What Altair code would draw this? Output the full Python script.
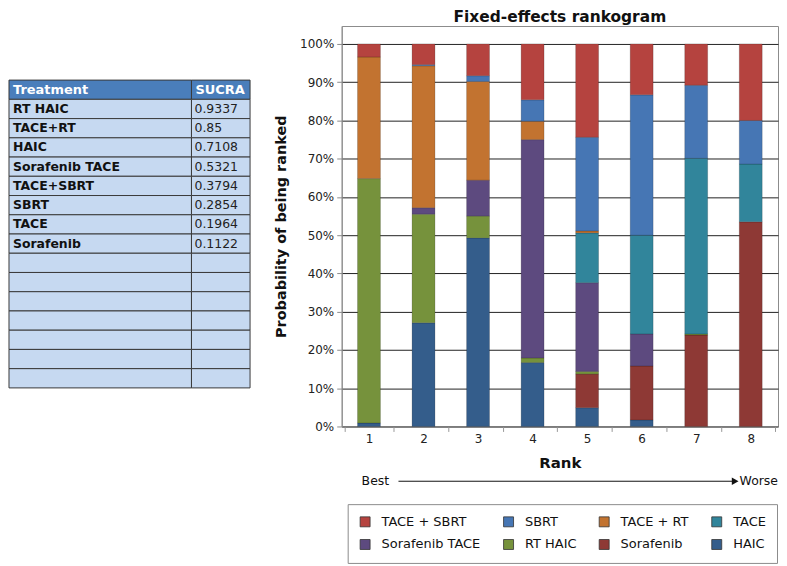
import altair as alt
import pandas as pd

# ---------------- data ----------------
ranks = [1, 2, 3, 4, 5, 6, 7, 8]

# stacking order, bottom to top
stack_order = ["HAIC", "Sorafenib", "RT HAIC", "Sorafenib TACE", "TACE",
               "TACE + RT", "SBRT", "TACE + SBRT"]

# probability (%) of each treatment being ranked 1..8
p_haic = [0.9, 27.1, 49.3, 16.7, 4.9, 1.7, 0, 0]
p_sorafenib = [0, 0, 0, 0, 8.8, 14.1, 23.9, 53.5]
p_rt_haic = [63.9, 28.4, 5.7, 1.2, 0.7, 0, 0.3, 0]
p_sorafenib_tace = [0, 1.7, 9.4, 57.1, 23.2, 8.4, 0, 0]
p_tace = [0, 0, 0, 0, 13.0, 25.8, 45.9, 15.1]
p_tace_rt = [31.8, 37.1, 25.8, 4.8, 0.5, 0, 0, 0]
p_sbrt = [0, 0.3, 1.5, 5.6, 24.5, 36.7, 19.1, 11.4]
p_tace_sbrt = [3.4, 5.4, 8.3, 14.6, 24.4, 13.3, 10.8, 20.0]

series = [p_haic, p_sorafenib, p_rt_haic, p_sorafenib_tace, p_tace,
          p_tace_rt, p_sbrt, p_tace_sbrt]

legend_order = ["TACE + SBRT", "SBRT", "TACE + RT", "TACE",
                "Sorafenib TACE", "RT HAIC", "Sorafenib", "HAIC"]
legend_colors = ["#B5433F", "#4676B4", "#C27330", "#31859B",
                 "#5D4A7F", "#76923C", "#8E3935", "#345D8B"]

y_ticks = [0, 10, 20, 30, 40, 50, 60, 70, 80, 90, 100]

table_header = ["Treatment", "SUCRA"]
table_treatments = ["RT HAIC", "TACE+RT", "HAIC", "Sorafenib TACE",
                    "TACE+SBRT", "SBRT", "TACE", "Sorafenib"]
table_sucra = ["0.9337", "0.85", "0.7108", "0.5321", "0.3794",
               "0.2854", "0.1964", "0.1122"]
n_empty_rows = 7

FONT = "DejaVu Sans"

# ---------------- rankogram ----------------
rows = []
for idx, (name, vals) in enumerate(zip(stack_order, series)):
    for r, v in zip(ranks, vals):
        if v > 0:
            rows.append({"rank": r, "treatment": name, "value": v, "stack_idx": idx})
bar_df = pd.DataFrame(rows)

W = 438
H = 402

bars = alt.Chart(bar_df).mark_bar(
    size=23, stroke="#000000", strokeOpacity=0.25, strokeWidth=0.7
).encode(
    x=alt.X("rank:O",
            axis=alt.Axis(title="Rank", labelAngle=0, tickBand="extent",
                          tickSize=5, tickColor="#999999", domainColor="#8c8c8c",
                          grid=False, labelPadding=2, titlePadding=11,
                          titleFontSize=15, titleFontWeight="bold",
                          titleFont=FONT, titleColor="#111111",
                          labelFontSize=12, labelFont=FONT, labelColor="#222222")),
    y=alt.Y("value:Q", stack="zero",
            scale=alt.Scale(domain=[0, 104.7], nice=False, zero=True),
            axis=alt.Axis(values=y_ticks, labelExpr="datum.value + '%'",
                          title="Probability of being ranked",
                          titleFontSize=14.5, titleFontWeight="bold",
                          titleFont=FONT, titleColor="#111111", titlePadding=11,
                          labelFontSize=12, labelFont=FONT, labelColor="#222222",
                          labelPadding=3, tickSize=5, tickColor="#8c8c8c",
                          domainColor="#8c8c8c", grid=True, gridColor="#222222",
                          gridWidth=1)),
    color=alt.Color("treatment:N",
                    scale=alt.Scale(domain=legend_order, range=legend_colors),
                    legend=alt.Legend(title=None, orient="none", legendX=340,
                                      legendY=H + 78, direction="horizontal",
                                      columns=4, symbolType="square",
                                      symbolSize=100, symbolStrokeColor="#333333",
                                      symbolStrokeWidth=0.8, labelFont=FONT,
                                      labelFontSize=13, labelColor="#111111",
                                      strokeColor="#8c8c8c", fillColor="white",
                                      padding=11, columnPadding=20, rowPadding=8,
                                      labelOffset=10, values=legend_order)),
    order=alt.Order("stack_idx:Q", sort="ascending"),
)

ann_y = H + 55
best = alt.Chart(pd.DataFrame({"t": ["Best"]})).mark_text(
    align="left", baseline="middle", font=FONT, fontSize=12.5, color="#111111"
).encode(x=alt.value(20), y=alt.value(ann_y), text="t:N")

worse = alt.Chart(pd.DataFrame({"t": ["Worse"]})).mark_text(
    align="right", baseline="middle", font=FONT, fontSize=12.5, color="#111111"
).encode(x=alt.value(W), y=alt.value(ann_y), text="t:N")

arrow_line = alt.Chart(pd.DataFrame({"t": ["line"]})).mark_rule(
    color="#111111", strokeWidth=1
).encode(x=alt.value(57), x2=alt.value(392), y=alt.value(ann_y))

arrow_head = alt.Chart(pd.DataFrame({"t": ["head"]})).mark_point(
    shape="triangle-right", filled=True, size=60, color="#111111", opacity=1
).encode(x=alt.value(395), y=alt.value(ann_y))

rank_chart = alt.layer(bars, arrow_line, arrow_head, best, worse).properties(
    width=W, height=H,
    title=alt.TitleParams("Fixed-effects rankogram", fontSize=15.5,
                          fontWeight="bold", font=FONT, anchor="middle",
                          frame="group", offset=1, color="#111111"),
    view=alt.ViewBackground(stroke="#8c8c8c"),
)

# ---------------- SUCRA table ----------------
n_rows = 1 + len(table_treatments) + n_empty_rows
col_edges = [0.0, 0.757, 1.0]
cells = []
for r in range(n_rows):
    for c in range(2):
        if r == 0:
            label = table_header[c]
            kind = "header"
        elif r <= len(table_treatments):
            label = table_treatments[r - 1] if c == 0 else table_sucra[r - 1]
            kind = "body"
        else:
            label = ""
            kind = "body"
        cells.append({"r0": r, "r1": r + 1, "rm": r + 0.5,
                      "x0": col_edges[c], "x1": col_edges[c + 1],
                      "col": c, "kind": kind, "label": label})
cell_df = pd.DataFrame(cells)

TW = 242
TH = 370
xs = alt.Scale(domain=[0, 1], range=[0, TW])
ys = alt.Scale(domain=[0, n_rows], range=[54.3, 363.3])

rects = alt.Chart(cell_df).mark_rect(stroke="#3a3a3a", strokeWidth=1).encode(
    x=alt.X("x0:Q", scale=xs, axis=None), x2="x1:Q",
    y=alt.Y("r0:Q", scale=ys, axis=None), y2="r1:Q",
    fill=alt.Fill("kind:N", scale=alt.Scale(domain=["header", "body"],
                                            range=["#4A7EBB", "#C6D9F1"]),
                  legend=None),
)

header_text = alt.Chart(cell_df).transform_filter(
    "datum.kind == 'header'"
).mark_text(align="left", baseline="middle", dx=4, font=FONT, fontSize=13,
            fontWeight="bold", color="white").encode(
    x=alt.X("x0:Q", scale=xs, axis=None),
    y=alt.Y("rm:Q", scale=ys, axis=None), text="label:N")

name_text = alt.Chart(cell_df).transform_filter(
    "datum.kind == 'body' && datum.col == 0"
).mark_text(align="left", baseline="middle", dx=4, font=FONT, fontSize=12.5,
            fontWeight="bold", color="#111111").encode(
    x=alt.X("x0:Q", scale=xs, axis=None),
    y=alt.Y("rm:Q", scale=ys, axis=None), text="label:N")

sucra_text = alt.Chart(cell_df).transform_filter(
    "datum.kind == 'body' && datum.col == 1"
).mark_text(align="left", baseline="middle", dx=3, font=FONT, fontSize=12.5,
            color="#222222").encode(
    x=alt.X("x0:Q", scale=xs, axis=None),
    y=alt.Y("rm:Q", scale=ys, axis=None), text="label:N")

table = alt.layer(rects, header_text, name_text, sucra_text).properties(
    width=TW, height=TH, view=alt.ViewBackground(stroke="transparent")
)

chart = alt.hconcat(table, rank_chart, spacing=22).properties(
    padding=0, background="white"
)

chart.save("out.html", embed_options={"renderer": "svg", "actions": False})
